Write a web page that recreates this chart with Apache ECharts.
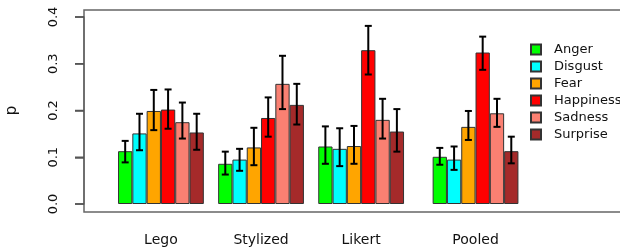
<!DOCTYPE html>
<html>
<head>
<meta charset="utf-8">
<script src="https://cdn.jsdelivr.net/npm/echarts@6/dist/echarts.min.js"></script>
<style>
  html, body { margin: 0; padding: 0; background: #fff; }
  #chart { width: 620px; height: 252px; }
</style>
</head>
<body>
<div id="chart"></div>
<script>
// 分组 / 情绪 / 颜色
const groups = ['Lego', 'Stylized', 'Likert', 'Pooled']
const emotions = ['Anger', 'Disgust', 'Fear', 'Happiness', 'Sadness', 'Surprise']
const colors = ['#00ff00', '#00ffff', '#ffa500', '#ff0000', '#fa8072', '#a52a2a']
// 每组第一根柱子所在的槽位（单位：柱宽）
const groupStart = [0, 7, 14, 22]
const yTicks = [0, 0.1, 0.2, 0.3, 0.4]

// 均值 p（按组，每组 6 个情绪）
const pLego = [0.113, 0.151, 0.199, 0.202, 0.175, 0.153]
const pStylized = [0.086, 0.095, 0.121, 0.184, 0.257, 0.212]
const pLikert = [0.123, 0.118, 0.124, 0.329, 0.180, 0.155]
const pPooled = [0.101, 0.095, 0.165, 0.324, 0.194, 0.113]
// 误差线下界 / 上界
const loLego = [0.089, 0.115, 0.158, 0.161, 0.140, 0.116]
const hiLego = [0.135, 0.193, 0.244, 0.245, 0.217, 0.193]
const loStylized = [0.063, 0.071, 0.083, 0.144, 0.203, 0.170]
const hiStylized = [0.112, 0.118, 0.163, 0.228, 0.317, 0.257]
const loLikert = [0.086, 0.081, 0.086, 0.277, 0.140, 0.112]
const hiLikert = [0.166, 0.162, 0.167, 0.381, 0.225, 0.203]
const loPooled = [0.084, 0.073, 0.137, 0.287, 0.165, 0.087]
const hiPooled = [0.120, 0.123, 0.199, 0.358, 0.225, 0.144]

const pAll = [pLego, pStylized, pLikert, pPooled]
const loAll = [loLego, loStylized, loLikert, loPooled]
const hiAll = [hiLego, hiStylized, hiLikert, hiPooled]

const barW = 14.3
const leftPad = 2.38 // 坐标轴到第一根柱子的空白（柱宽单位）
const font = 'DejaVu Sans'

const slotX = (i, e) => leftPad + groupStart[i] + e + 0.5

const barSeries = emotions.map((name, e) => ({
  name: name,
  type: 'bar',
  barWidth: barW,
  barGap: '-100%',
  itemStyle: { color: colors[e], borderColor: '#333', borderWidth: 1 },
  data: groups.map((g, i) => [slotX(i, e), pAll[i][e]])
}))

const errData = []
groups.forEach((g, i) => {
  emotions.forEach((name, e) => {
    errData.push([slotX(i, e), loAll[i][e], hiAll[i][e]])
  })
})

// 误差线
const errSeries = {
  type: 'custom',
  z: 10,
  silent: true,
  renderItem (params, api) {
    const lo = api.coord([api.value(0), api.value(1)])
    const hi = api.coord([api.value(0), api.value(2)])
    const cap = 3.5
    const style = { stroke: '#000', lineWidth: 2 }
    return {
      type: 'group',
      children: [
        { type: 'line', shape: { x1: lo[0], y1: lo[1], x2: hi[0], y2: hi[1] }, style },
        { type: 'line', shape: { x1: lo[0] - cap, y1: lo[1], x2: lo[0] + cap, y2: lo[1] }, style },
        { type: 'line', shape: { x1: hi[0] - cap, y1: hi[1], x2: hi[0] + cap, y2: hi[1] }, style }
      ]
    }
  },
  encode: { x: 0, y: 1 },
  data: errData
}

// y 轴刻度线（左侧外伸）
const tickSeries = {
  type: 'custom',
  z: 10,
  silent: true,
  clip: false,
  renderItem (params, api) {
    const p = api.coord([0, api.value(1)])
    return {
      type: 'line',
      shape: { x1: p[0] - 9, y1: p[1], x2: p[0], y2: p[1] },
      style: { stroke: '#555', lineWidth: 1.5 }
    }
  },
  encode: { x: 0, y: 1 },
  data: yTicks.map(v => [0, v])
}

const groupCenters = groupStart.map(s => leftPad + s + 3)

const chart = echarts.init(document.getElementById('chart'))
chart.setOption({
  animation: false,
  textStyle: { fontFamily: font },
  grid: [
    // 数据区 0.0 ~ 0.4
    { left: 84, top: 17, width: 570, height: 187, outerBoundsMode: 'none', containLabel: false },
    // 外框
    {
      left: 84, top: 10, width: 570, height: 202, outerBoundsMode: 'none', containLabel: false,
      show: true, borderColor: '#666', borderWidth: 1.5, backgroundColor: 'transparent'
    }
  ],
  legend: {
    orient: 'vertical',
    left: 525,
    top: 38,
    itemWidth: 10,
    itemHeight: 10,
    itemGap: 4,
    icon: 'rect',
    data: emotions,
    textStyle: { fontFamily: font, fontSize: 13, color: '#111', padding: [0, 0, 0, 8] }
  },
  xAxis: [
    {
      type: 'value',
      gridIndex: 0,
      min: 0,
      max: 39.86,
      splitLine: { show: false },
      axisLine: { show: false },
      axisTick: { show: false },
      axisLabel: {
        customValues: groupCenters,
        margin: 29,
        fontSize: 14,
        color: '#111',
        formatter: (v) => groups[groupCenters.indexOf(v)] || ''
      }
    },
    { type: 'value', gridIndex: 1, show: false }
  ],
  yAxis: [
    {
      type: 'value',
      gridIndex: 0,
      min: 0,
      max: 0.4,
      interval: 0.1,
      name: 'p',
      nameLocation: 'middle',
      nameGap: 64,
      nameTextStyle: { fontFamily: font, fontSize: 15, color: '#111' },
      splitLine: { show: false },
      axisLine: { show: true, lineStyle: { color: '#666', width: 1.5 } },
      axisTick: {
        show: true,
        length: 9,
        lineStyle: { color: '#555', width: 1.5 }
      },
      axisLabel: {
        rotate: 90,
        margin: 24,
        fontSize: 13,
        color: '#111',
        formatter: (v) => v.toFixed(1)
      }
    },
    { type: 'value', gridIndex: 1, show: false }
  ],
  series: barSeries.concat([errSeries, tickSeries])
})
</script>
</body>
</html>
